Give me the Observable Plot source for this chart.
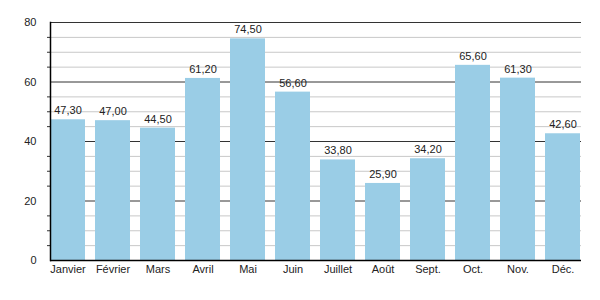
<!DOCTYPE html>
<html>
<head>
<meta charset="utf-8">
<script src="https://cdn.jsdelivr.net/npm/d3@7"></script>
<script src="https://cdn.jsdelivr.net/npm/@observablehq/plot@0.6"></script>
<style>
  html, body { margin: 0; padding: 0; background: #fff; }
  #chart { width: 600px; height: 300px; }
</style>
</head>
<body>
<div id="chart"></div>
<script>
const months = ["Janvier", "Février", "Mars", "Avril", "Mai", "Juin", "Juillet", "Août", "Sept.", "Oct.", "Nov.", "Déc."];
const values = [47.3, 47.0, 44.5, 61.2, 74.5, 56.6, 33.8, 25.9, 34.2, 65.6, 61.3, 42.6];
const majorTicks = [0, 20, 40, 60, 80];
const minorTicks = [5, 10, 15, 25, 30, 35, 45, 50, 55, 65, 70, 75];

const data = months.map((m, i) => ({month: m, value: values[i]}));
const fmt = v => v.toFixed(2).replace(".", ",");

const chart = Plot.plot({
  width: 600,
  height: 300,
  marginLeft: 50,
  marginRight: 19,
  marginTop: 22,
  marginBottom: 40,
  style: {fontFamily: "'Liberation Sans', Arial, sans-serif", fontSize: "11px", color: "#222", background: "#fff"},
  x: {domain: months, paddingInner: 0.22, paddingOuter: 0, label: null},
  y: {domain: [0, 80], label: null},
  marks: [
    Plot.ruleY(minorTicks, {stroke: "#c8c8c8", strokeWidth: 1}),
    Plot.ruleY(majorTicks.filter(d => d > 0), {stroke: "#333", strokeWidth: 1}),
    Plot.axisY(minorTicks, {tickSize: 3, tickFormat: () => "", stroke: "#333", strokeOpacity: 1}),
    Plot.axisY(majorTicks, {tickSize: 0, tickPadding: 14, fill: "#222", fontSize: 11}),
    Plot.axisX({tickSize: 0, tickPadding: 5, fill: "#222", fontSize: 11}),
    Plot.barY(data, {x: "month", y: "value", fill: "#9acde6"}),
    Plot.text(data, {x: "month", y: "value", text: d => fmt(d.value), dy: -9, fill: "#222", fontSize: 11}),
    Plot.ruleY([0], {stroke: "#000", strokeWidth: 1.5}),
    Plot.frame({anchor: "left", stroke: "#000", strokeWidth: 1.5})
  ]
});
document.getElementById("chart").appendChild(chart);
</script>
</body>
</html>
